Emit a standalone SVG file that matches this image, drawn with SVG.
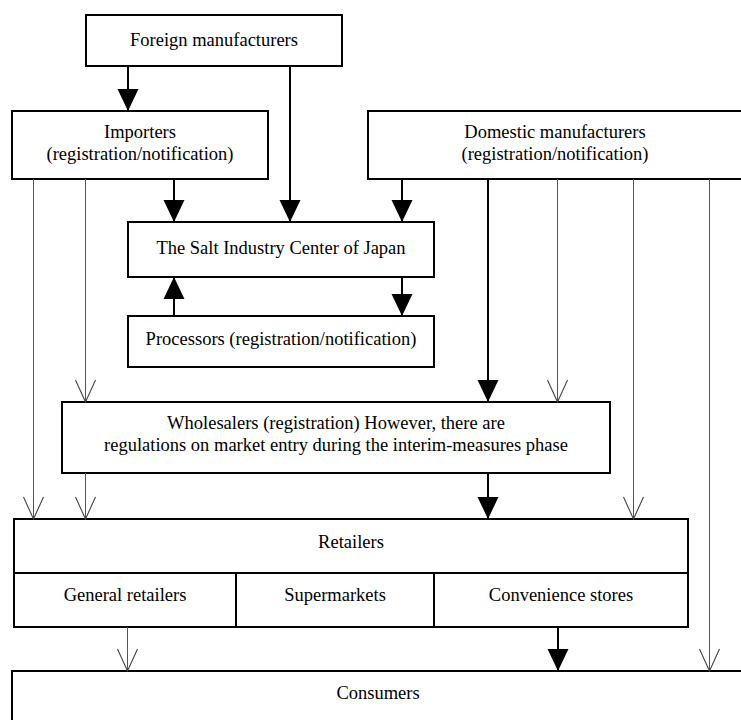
<svg xmlns="http://www.w3.org/2000/svg" width="741" height="720" viewBox="0 0 741 720">
<style>
.box{fill:#fff;stroke:#000;stroke-width:2}
.div{stroke:#000;stroke-width:2;fill:none}
text{font-family:"Liberation Serif","Times New Roman",serif;font-size:18.5px;fill:#000;text-anchor:middle}
.thick{stroke:#000;stroke-width:2;fill:none}
.thin{stroke:#555;stroke-width:1;fill:none}
</style>
<defs>
<marker id="fa" markerUnits="userSpaceOnUse" markerWidth="22" markerHeight="22" viewBox="0 0 21 20" refX="21" refY="10" orient="auto">
<path d="M0,0 L21,10 L0,20 Z" fill="#000"/>
</marker>
<marker id="oa" markerUnits="userSpaceOnUse" markerWidth="24" markerHeight="24" viewBox="-1 -1 24 22" refX="22" refY="10" orient="auto">
<path d="M0,0 L22,10 L0,20" fill="none" stroke="#444" stroke-width="1.1"/>
</marker>
</defs>
<g id="foreign"><rect class="box" x="86" y="15" width="256" height="51"/><text x="214" y="46">Foreign manufacturers</text></g>
<g id="importers"><rect class="box" x="12" y="111" width="256" height="68"/><text x="140" y="138">Importers</text><text x="140" y="160">(registration/notification)</text></g>
<g id="domestic"><rect class="box" x="368" y="111" width="376" height="68"/><text x="555" y="138">Domestic manufacturers</text><text x="555" y="160">(registration/notification)</text></g>
<g id="salt"><rect class="box" x="128" y="222" width="306" height="55"/><text x="281" y="254">The Salt Industry Center of Japan</text></g>
<g id="processors"><rect class="box" x="128" y="316" width="306" height="51"/><text x="281" y="345">Processors (registration/notification)</text></g>
<g id="wholesalers"><rect class="box" x="62" y="402" width="548" height="71"/><text x="336" y="429">Wholesalers (registration) However, there are</text><text x="336" y="451">regulations on market entry during the interim-measures phase</text></g>
<g id="retailers"><rect class="box" x="14" y="519" width="674" height="108"/><line class="div" x1="14" y1="573" x2="688" y2="573"/><line class="div" x1="236" y1="573" x2="236" y2="627"/><line class="div" x1="434" y1="573" x2="434" y2="627"/><text x="351" y="548">Retailers</text><text x="125" y="601">General retailers</text><text x="335" y="601">Supermarkets</text><text x="561" y="601">Convenience stores</text></g>
<g id="consumers"><rect class="box" x="12" y="671" width="733" height="60"/><text x="378" y="699">Consumers</text></g>
<g id="connectors">
<line class="thick" x1="128" y1="66" x2="128" y2="111" marker-end="url(#fa)"/>
<line class="thick" x1="290" y1="66" x2="290" y2="222" marker-end="url(#fa)"/>
<line class="thick" x1="174" y1="179" x2="174" y2="222" marker-end="url(#fa)"/>
<line class="thick" x1="402" y1="179" x2="402" y2="222" marker-end="url(#fa)"/>
<line class="thick" x1="174" y1="316" x2="174" y2="277" marker-end="url(#fa)"/>
<line class="thick" x1="402" y1="277" x2="402" y2="316" marker-end="url(#fa)"/>
<line class="thick" x1="488" y1="179" x2="488" y2="402" marker-end="url(#fa)"/>
<line class="thick" x1="488" y1="473" x2="488" y2="519" marker-end="url(#fa)"/>
<line class="thick" x1="558" y1="627" x2="558" y2="671" marker-end="url(#fa)"/>
<line class="thin" x1="33.5" y1="179" x2="33.5" y2="519" marker-end="url(#oa)"/>
<line class="thin" x1="85.5" y1="179" x2="85.5" y2="402" marker-end="url(#oa)"/>
<line class="thin" x1="85.5" y1="473" x2="85.5" y2="519" marker-end="url(#oa)"/>
<line class="thin" x1="557.5" y1="179" x2="557.5" y2="402" marker-end="url(#oa)"/>
<line class="thin" x1="633.5" y1="179" x2="633.5" y2="519" marker-end="url(#oa)"/>
<line class="thin" x1="709.5" y1="179" x2="709.5" y2="671" marker-end="url(#oa)"/>
<line class="thin" x1="127.5" y1="627" x2="127.5" y2="671" marker-end="url(#oa)"/>
</g>
</svg>
